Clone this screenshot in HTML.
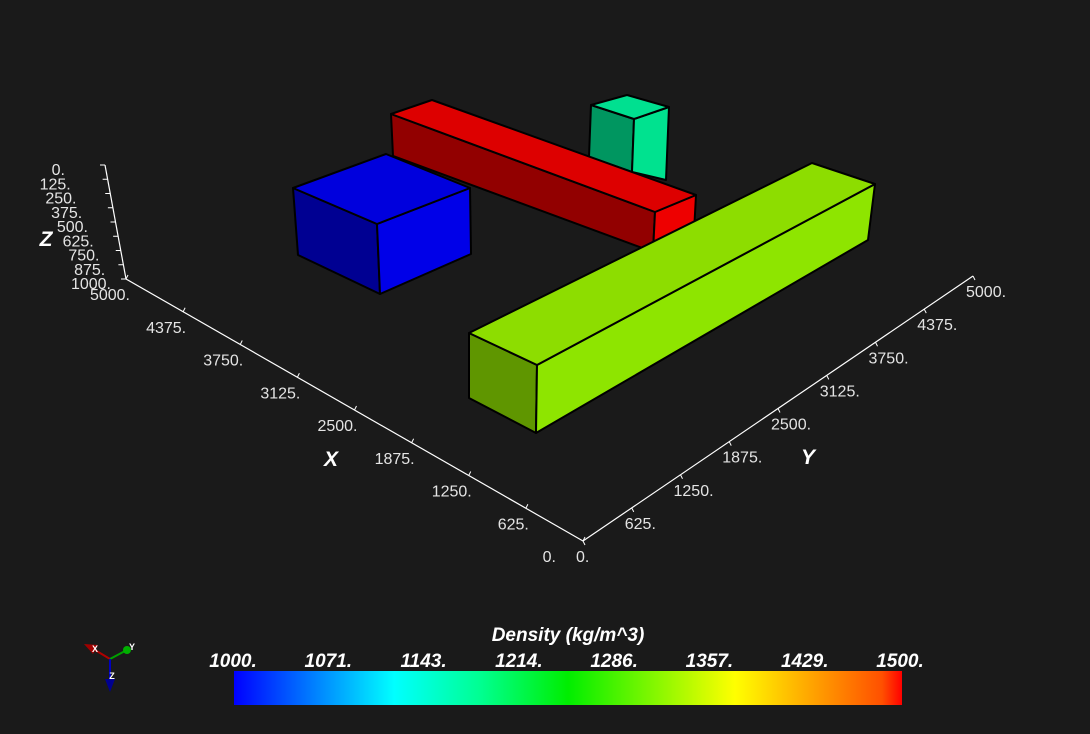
<!DOCTYPE html>
<html><head><meta charset="utf-8"><style>
html,body{margin:0;padding:0;background:#1a1a1a;}
svg{display:block;}
text{font-family:"Liberation Sans",sans-serif;}
.tk{fill:#e4e4e4;font-size:16px;}
.ax{fill:#fff;font-size:21px;font-weight:bold;font-style:italic;}
.cb{fill:#fff;font-size:19px;font-style:italic;font-weight:bold;}
</style></head><body>
<svg id="s" width="1090" height="734" viewBox="0 0 1090 734">
<defs><linearGradient id="jet" x1="0" x2="1" y1="0" y2="0">
<stop offset="0" stop-color="#0000ff"/><stop offset="0.12" stop-color="#0080ff"/><stop offset="0.24" stop-color="#00ffff"/><stop offset="0.37" stop-color="#00ff90"/><stop offset="0.5" stop-color="#00ee00"/><stop offset="0.75" stop-color="#ffff00"/><stop offset="0.97" stop-color="#ff5000"/><stop offset="1" stop-color="#ff0000"/>
</linearGradient></defs>
<g id="axes"></g>
<g stroke="#000" stroke-width="2" stroke-linejoin="round">
<polygon points="591,105 634,119 632,172 589,157" fill="#009660"/>
<polygon points="634,119 669,107 666,180 632,172" fill="#00e28f"/>
<polygon points="591,105 627,95 669,107 634,119" fill="#00e090"/>
</g>
<g stroke="#000" stroke-width="2" stroke-linejoin="round">
<polygon points="391,114 655,212 653,252 393,156" fill="#920000"/>
<polygon points="655,212 696,195 694,232 653,252" fill="#ee0000"/>
<polygon points="391,114 432,100 696,195 655,212" fill="#dd0000"/>
</g>
<g stroke="#000" stroke-width="2" stroke-linejoin="round">
<polygon points="293,188 377,224 380,294 298,255" fill="#000092"/>
<polygon points="377,224 470,188 471,254 380,294" fill="#0000e8"/>
<polygon points="293,188 386,154 470,188 377,224" fill="#0000dd"/>
</g>
<g stroke="#000" stroke-width="2" stroke-linejoin="round">
<polygon points="469,333 537,365 536,433 469,398" fill="#5f9600"/>
<polygon points="537,365 875,184 868,240 536,433" fill="#8ee500"/>
<polygon points="469,333 812,163 875,184 537,365" fill="#8ddd00"/>
</g>
<g>
<line x1="110" y1="659" x2="95" y2="650" stroke="#b00000" stroke-width="2"/>
<polygon points="84,644 98,645 93,654" fill="#a00000"/>
<line x1="110" y1="659" x2="125" y2="651" stroke="#00a000" stroke-width="2"/>
<circle cx="127" cy="650" r="4" fill="#00b000"/>
<line x1="110" y1="659" x2="110" y2="680" stroke="#0000c0" stroke-width="2"/>
<polygon points="105,679 115,679 110,692" fill="#000090"/>
<text x="95" y="652" fill="#fff" font-size="9" font-weight="bold" text-anchor="middle">X</text>
<text x="132" y="650" fill="#fff" font-size="9" font-weight="bold" text-anchor="middle">Y</text>
<text x="112" y="679" fill="#fff" font-size="9" font-weight="bold" text-anchor="middle">Z</text>
</g>
<g>
<text class="cb" x="568" y="641" text-anchor="middle">Density (kg/m^3)</text>
<rect x="234" y="671" width="668" height="34" fill="url(#jet)"/>
<g id="cblabels"></g>
</g>
</svg>
<script>
const xTicks=[0,625,1250,1875,2500,3125,3750,4375,5000];
const yTicks=[0,625,1250,1875,2500,3125,3750,4375,5000];
const zTicks=[0,125,250,375,500,625,750,875,1000];
const cbLabels=["1000.","1071.","1143.","1214.","1286.","1357.","1429.","1500."];
const NS="http://www.w3.org/2000/svg";
const ax=document.getElementById('axes');
function mk(t,a,p){const e=document.createElementNS(NS,t);for(const k in a)e.setAttribute(k,a[k]);(p||ax).appendChild(e);return e;}
const O=[583,541],XE=[126,279],YE=[973,276],ZT=[105,165];
function px(v){const f=v/5000;return [O[0]+f*(XE[0]-O[0]),O[1]+f*(XE[1]-O[1])];}
function py(v){const f=v/5000;return [O[0]+f*(YE[0]-O[0]),O[1]+f*(YE[1]-O[1])];}
function pz(v){const f=v/1000;return [ZT[0]+f*(XE[0]-ZT[0]),ZT[1]+f*(XE[1]-ZT[1])];}
let l;
l=mk('line',{x1:O[0],y1:O[1],x2:XE[0],y2:XE[1],stroke:'#fff','stroke-width':1.2});

l=mk('line',{x1:O[0],y1:O[1],x2:YE[0],y2:YE[1],stroke:'#fff','stroke-width':1.2});

l=mk('line',{x1:ZT[0],y1:ZT[1],x2:XE[0],y2:XE[1],stroke:'#fff','stroke-width':1.2});

xTicks.forEach((v,i)=>{const p=px(v);
 mk('line',{x1:p[0],y1:p[1],x2:p[0]+2,y2:p[1]-4,stroke:'#fff'});
 const t=mk('text',{x:i==0?556:p[0]+3,y:p[1]+21,'text-anchor':'end',class:'tk'});
 
 t.textContent=(i==xTicks.length-1?'':v+'.');});
yTicks.forEach((v,i)=>{const p=py(v);
 mk('line',{x1:p[0],y1:p[1],x2:p[0]+2,y2:p[1]+4,stroke:'#fff'});
 const t=mk('text',{x:p[0]-7,y:p[1]+21,'text-anchor':'start',class:'tk'});
 
 t.textContent=v+'.';});
zTicks.forEach((v,i)=>{const p=pz(v);const f=v/1000;
 mk('line',{x1:p[0],y1:p[1],x2:p[0]-5,y2:p[1],stroke:'#fff'});
 const t=mk('text',{x:p[0]-40+f*25,y:p[1]+10,'text-anchor':'end',class:'tk'});
 
 t.textContent=v+'.';});
const t5=mk('text',{x:130,y:300,'text-anchor':'end',class:'tk'});

t5.textContent=xTicks[xTicks.length-1]+'.';
[['X',331,466,'x-axis-title'],['Y',808,464,'y-axis-title'],['Z',46,246,'z-axis-title']].forEach(a=>{
 const t=mk('text',{x:a[1],y:a[2],'text-anchor':'middle',class:'ax'});
 t.textContent=a[0];});
const cg=document.getElementById('cblabels');
cbLabels.forEach((s,i)=>{const x=233+i*(900-233)/(cbLabels.length-1);
 const t=mk('text',{x:x,y:667,'text-anchor':'middle',class:'cb'},cg);
 t.textContent=s;});
</script>
</body></html>
